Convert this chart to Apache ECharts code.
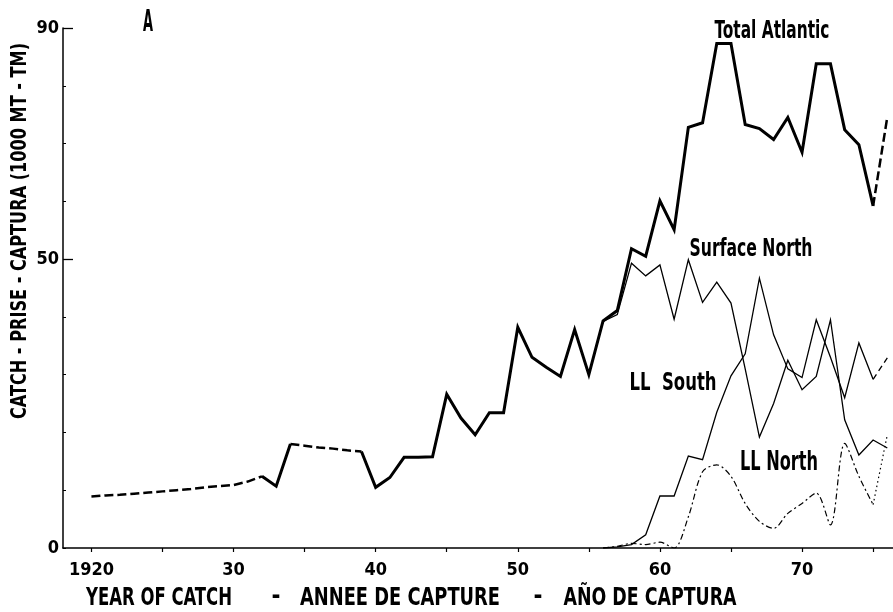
<!DOCTYPE html>
<html>
<head>
<meta charset="utf-8">
<script src="https://cdn.jsdelivr.net/npm/echarts@6/dist/echarts.min.js"></script>
<style>
html, body { margin: 0; padding: 0; background: #fff; }
#chart { width: 893px; height: 612px; }
</style>
</head>
<body>
<div id="chart"></div>
<script>
// catch in 1000 t, one value per year (null = not drawn)
var years = [1920, 1921, 1922, 1923, 1924, 1925, 1926, 1927, 1928, 1929,
             1930, 1931, 1932, 1933, 1934, 1935, 1936, 1937, 1938, 1939,
             1940, 1941, 1942, 1943, 1944, 1945, 1946, 1947, 1948, 1949,
             1950, 1951, 1952, 1953, 1954, 1955, 1956, 1957, 1958, 1959,
             1960, 1961, 1962, 1963, 1964, 1965, 1966, 1967, 1968, 1969,
             1970, 1971, 1972, 1973, 1974, 1975, 1976];

var totalAtlantic = [8.9, 9.1, 9.2, 9.4, 9.6, 9.8, 10.0, 10.2, 10.5, 10.7,
                     10.9, 11.5, 12.4, 10.7, 18.0, 17.7, 17.4, 17.2, 16.9, 16.7,
                     10.5, 12.2, 15.7, 15.7, 15.8, 26.6, 22.5, 19.6, 23.4, 23.4,
                     38.2, 33.0, 31.3, 29.7, 37.8, 30.0, 39.3, 41.1, 51.8, 50.5,
                     60.1, 55.1, 72.8, 73.6, 87.3, 87.3, 73.3, 72.6, 70.7, 74.5,
                     68.5, 83.8, 83.8, 72.4, 69.8, 59.2, 74.6];

var surfaceNorth = [null, null, null, null, null, null, null, null, null, null,
                    null, null, null, null, null, null, null, null, null, null,
                    null, null, null, null, null, null, null, null, null, null,
                    null, null, null, null, null, 30.0, 39.2, 40.4, 49.3, 47.1,
                    49.0, 39.6, 49.9, 42.5, 46.0, 42.4, 31.0, 19.2, 25.0, 32.5,
                    27.4, 29.7, 39.5, 22.2, 16.1, 18.7, 17.3];

var llSouth = [null, null, null, null, null, null, null, null, null, null,
               null, null, null, null, null, null, null, null, null, null,
               null, null, null, null, null, null, null, null, null, null,
               null, null, null, null, null, null, 0.0, 0.2, 0.6, 2.3,
               9.0, 9.0, 15.9, 15.3, 23.5, 29.8, 33.6, 46.7, 36.9, 31.0,
               29.5, 39.5, 33.0, 26.0, 35.5, 29.2, 32.9];

var llNorth = [null, null, null, null, null, null, null, null, null, null,
               null, null, null, null, null, null, null, null, null, null,
               null, null, null, null, null, null, null, null, null, null,
               null, null, null, null, null, null, 0.0, 0.3, 0.8, 0.6,
               1.0, 0.0, 5.4, 13.2, 14.4, 12.4, 7.7, 4.6, 3.4, 6.0,
               7.7, 9.5, 4.0, 18.1, 12.4, 7.5, 19.6];

var xTicks = [1920, 1925, 1930, 1935, 1940, 1945, 1950, 1955, 1960, 1965, 1970, 1975];
var xLabels = [1920, 1930, 1940, 1950, 1960, 1970];
var yLabels = [0, 50, 90];
var yMajorTicks = [50, 90];

var FONT = '"Liberation Sans Narrow", "DejaVu Sans Condensed", sans-serif';

// keep only the years inside the given ranges, '-' breaks the line elsewhere
function seg(vals, ranges) {
  return years.map(function(y, i) {
    var v = vals[i];
    var inside = ranges.some(function(r) { return y >= r[0] && y <= r[1]; });
    return [y, (inside && v != null) ? v : '-'];
  });
}

function line(data, width, type, z, smooth) {
  return {
    type: 'line',
    data: data,
    symbol: 'none',
    smooth: smooth || false,
    z: z,
    lineStyle: { color: '#000', width: width, type: type, join: 'miter' }
  };
}

var mctx = document.createElement('canvas').getContext('2d');
function label(text, cx, cy, size, width, rot) {
  mctx.font = 'bold ' + size + 'px ' + FONT;
  var w = mctx.measureText(text).width;
  return {
    type: 'text', x: cx, y: cy, rotation: rot || 0,
    scaleX: width ? width / w : 1,
    style: {
      text: text, fontSize: size, fontWeight: 'bold', fontFamily: FONT,
      fill: '#000', align: 'center', verticalAlign: 'middle'
    }
  };
}

var chart = echarts.init(document.getElementById('chart'));
chart.setOption({
  animation: false,
  backgroundColor: '#fff',
  grid: { left: 63, right: 0, top: 28, bottom: 64 },
  xAxis: {
    type: 'value', min: 1918, max: 1976.4,
    splitLine: { show: false },
    axisLine: { lineStyle: { color: '#000', width: 1.5 } },
    axisTick: { customValues: xTicks, length: 4, lineStyle: { color: '#000', width: 1.2 } },
    axisLabel: {
      customValues: xLabels, margin: 13, color: '#000',
      fontFamily: FONT, fontWeight: 'bold', fontSize: 18,
      formatter: function(v) { return v === 1920 ? '1920' : String(v).slice(2); }
    }
  },
  yAxis: [{
    type: 'value', min: 0, max: 90, interval: 10,
    splitLine: { show: false },
    axisLine: { show: true, lineStyle: { color: '#000', width: 1.5 } },
    axisTick: { inside: true, length: 3, lineStyle: { color: '#000' } },
    axisLabel: {
      customValues: yLabels, margin: 4, color: '#000',
      fontFamily: FONT, fontWeight: 'bold', fontSize: 18
    }
  }, {
    type: 'value', min: 0, max: 90, position: 'left',
    splitLine: { show: false },
    axisLine: { show: false },
    axisTick: { customValues: yMajorTicks, inside: true, length: 10, lineStyle: { color: '#000', width: 1.3 } },
    axisLabel: { show: false }
  }],
  series: [
    line(seg(totalAtlantic, [[1932, 1934], [1939, 1975]]), 3, 'solid', 5),
    line(seg(totalAtlantic, [[1920, 1932], [1934, 1939], [1975, 1976]]), 2.5, [9, 4], 5),
    line(seg(surfaceNorth, [[1955, 1976]]), 1.3, 'solid', 3),
    line(seg(llSouth, [[1956, 1975]]), 1.3, 'solid', 3),
    line(seg(llSouth, [[1975, 1976]]), 1.3, [6, 4], 3),
    line(seg(llNorth, [[1956, 1975]]), 1.2, [6, 3, 2, 3], 2, 0.3),
    line(seg(llNorth, [[1975, 1976]]), 1.2, [1.5, 3], 2)
  ],
  graphic: [
    label('A', 148, 23, 30, 10),
    label('Total Atlantic', 772, 31, 25, 115),
    label('Surface North', 751, 249, 25, 123),
    label('LL  South', 673, 383, 25, 87),
    label('LL North', 779, 463, 26, 78),
    label('CATCH - PRISE - CAPTURA (1000 MT - TM)', 20, 231, 22, 376, Math.PI / 2),
    label('YEAR OF CATCH', 159, 598, 25, 146),
    label('-', 276, 597, 24),
    label('ANNEE DE CAPTURE', 400, 598, 25, 200),
    label('-', 538, 597, 24),
    label('AÑO DE CAPTURA', 650, 598, 25, 173)
  ]
});
</script>
</body>
</html>
